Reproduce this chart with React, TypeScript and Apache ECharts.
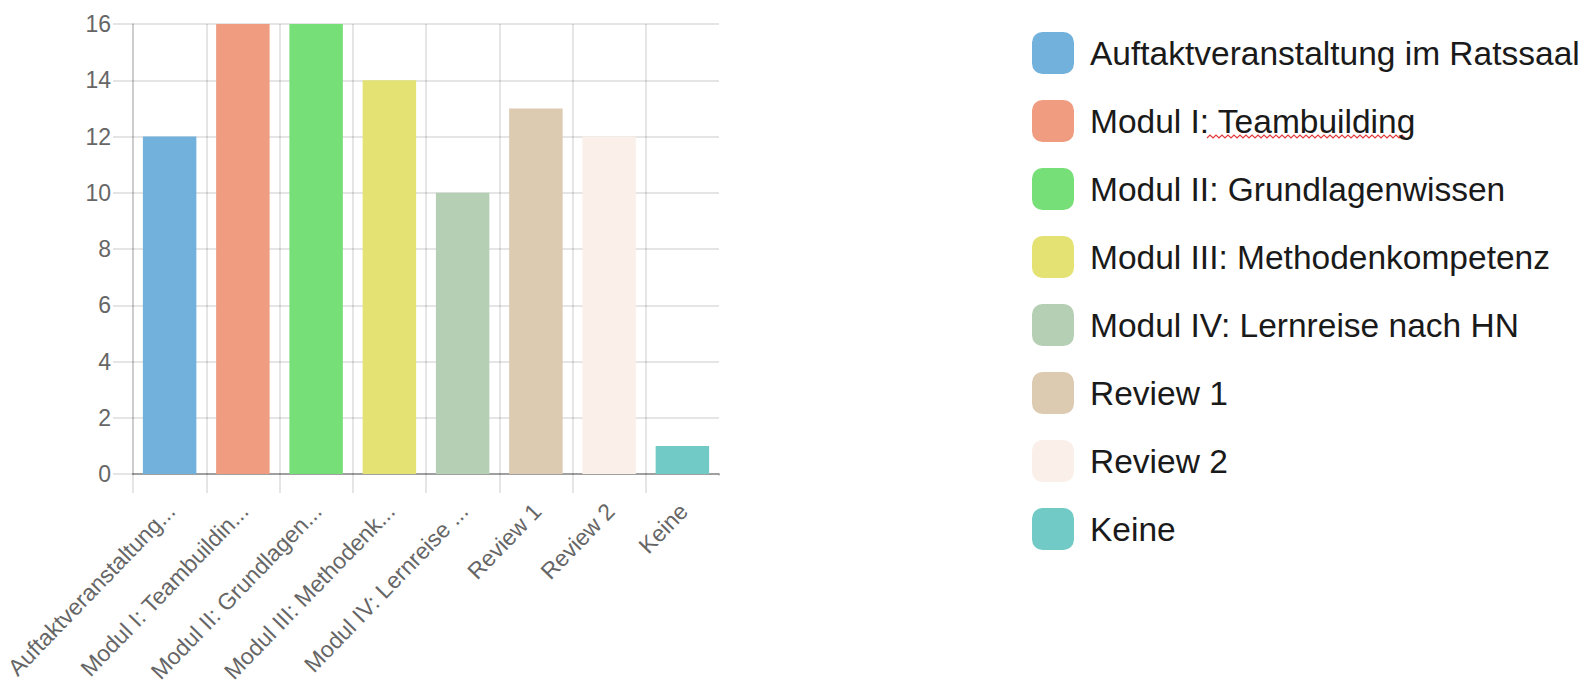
import React, { useEffect, useRef } from "react";
import * as echarts from "echarts";

const categories = [
  "Auftaktveranstaltung im Ratssaal",
  "Modul I: Teambuilding",
  "Modul II: Grundlagenwissen",
  "Modul III: Methodenkompetenz",
  "Modul IV: Lernreise nach HN",
  "Review 1",
  "Review 2",
  "Keine",
];
const values = [12, 16, 16, 14, 10, 13, 12, 1];
const colors = [
  "#72b1dc",
  "#f09c80",
  "#77df77",
  "#e3e272",
  "#b4cfb4",
  "#dccab1",
  "#fbefe9",
  "#72cac6",
];
const yMin = 0;
const yMax = 16;
const yInterval = 2;

const FONT = "'Liberation Sans', Arial, Helvetica, sans-serif";

function truncate(s: string): string {
  return s.length > 20 ? s.slice(0, 20) + "..." : s;
}

export default function App() {
  const ref = useRef<HTMLDivElement>(null);

  useEffect(() => {
    if (!ref.current) return;
    const chart = echarts.init(ref.current, undefined, { renderer: "svg" });

    const series = categories.map((name, i) => ({
      type: "bar",
      name,
      barGap: "-100%",
      barCategoryGap: "27%",
      itemStyle: { color: colors[i] },
      emphasis: { disabled: true },
      data: values.map((v, j) => (j === i ? v : "-")),
    }));

    // decorative spell-check squiggle under "Teambuilding" in legend
    const squiggle: number[][] = [];
    for (let x = 1207, k = 0; x <= 1405; x += 3, k++) {
      squiggle.push([x, k % 2 === 0 ? 138 : 135]);
    }

    chart.setOption({
      animation: false,
      backgroundColor: "#ffffff",
      textStyle: { fontFamily: FONT },
      grid: { left: 133, top: 24, right: 868, bottom: 212, containLabel: false },
      legend: {
        show: true,
        orient: "vertical",
        left: 1027,
        top: 27,
        icon: "roundRect",
        itemWidth: 42,
        itemHeight: 42,
        itemGap: 26,
        selectedMode: false,
        textStyle: {
          fontFamily: FONT,
          fontSize: 33.5,
          color: "#1a1a1a",
          padding: [0, 0, 0, 11],
        },
        data: categories,
      },
      xAxis: {
        type: "category",
        data: categories,
        boundaryGap: true,
        axisLine: { show: true, lineStyle: { color: "rgba(0,0,0,0.3)", width: 2 } },
        axisTick: {
          show: true,
          length: 19,
          lineStyle: { color: "rgba(0,0,0,0.1)", width: 2 },
        },
        splitLine: {
          show: true,
          showMaxLine: false,
          lineStyle: { color: "rgba(0,0,0,0.1)", width: 2 },
        },
        axisLabel: {
          interval: 0,
          rotate: 46,
          margin: 18,
          align: "right",
          verticalAlign: "top",
          padding: [0, 10, 0, 0],
          fontSize: 23,
          color: "#666666",
          fontFamily: FONT,
          formatter: (v: string) => truncate(v),
        },
      },
      yAxis: {
        type: "value",
        min: yMin,
        max: yMax,
        interval: yInterval,
        axisLine: { show: true, lineStyle: { color: "rgba(0,0,0,0.1)", width: 2 } },
        axisTick: {
          show: true,
          length: 20,
          lineStyle: { color: "rgba(0,0,0,0.1)", width: 2 },
        },
        splitLine: { show: true, lineStyle: { color: "rgba(0,0,0,0.1)", width: 2 } },
        axisLabel: {
          margin: 22,
          fontSize: 23,
          color: "#666666",
          fontFamily: FONT,
        },
      },
      series,
      graphic: [
        {
          type: "rect",
          shape: { x: 715, y: 476, width: 8, height: 20 },
          style: { fill: "#ffffff" },
          silent: true,
          z: 100,
        },
        {
          type: "polyline",
          shape: { points: squiggle },
          style: { stroke: "#e23b3b", lineWidth: 1.2, fill: null },
          silent: true,
        },
      ],
    });

    return () => chart.dispose();
  }, []);

  return (
    <div
      ref={ref}
      style={{ position: "absolute", left: 0, top: 0, width: 1587, height: 686 }}
    />
  );
}
